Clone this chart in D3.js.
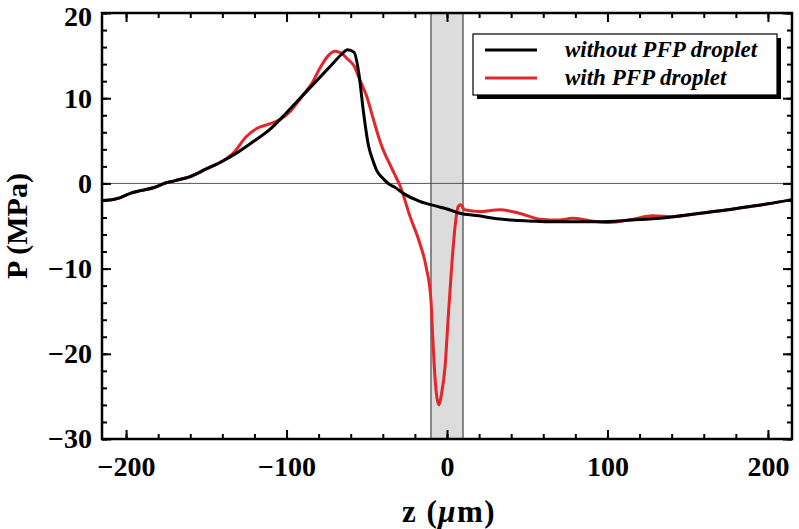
<!DOCTYPE html>
<html>
<head>
<meta charset="utf-8">
<script src="https://cdn.jsdelivr.net/npm/d3@7"></script>
<style>
  html, body { margin: 0; padding: 0; background: #fff; }
  svg { display: block; }
  text { font-family: "Liberation Serif", "Times New Roman", serif; font-weight: bold; fill: #000; }
</style>
</head>
<body>
<svg id="chart" width="799" height="529"></svg>
<script>
// ---------------- data ----------------
const seriesNames = ["without PFP droplet", "with PFP droplet"];
const seriesColors = ["#000000", "#e3262a"];

// black curve: without PFP droplet
const zWithout = [-215,-210,-204,-197,-191,-182,-177,-170,-160,-150,-140,-130,-120,-110,-100,-90,-80,-72,-66,-62,-58,-55,-52,-49,-46,-44,-42,-40,-36,-33,-27,-17,-6,0,8,20,29,40,50,70,95,115,133,158,175,189,200,215];
const pWithout = [-2.0,-1.95,-1.7,-1.15,-0.85,-0.45,-0.05,0.3,0.8,1.7,2.6,3.7,5.0,6.4,8.3,10.3,12.3,13.9,15.1,15.7,15.4,13.0,8.3,4.5,2.6,1.6,1.0,0.6,-0.1,-0.4,-1.2,-2.1,-2.7,-3.0,-3.5,-3.8,-4.1,-4.3,-4.4,-4.5,-4.5,-4.3,-4.1,-3.5,-3.1,-2.7,-2.4,-1.9];

// red curve: with PFP droplet
const zWith = [-215,-210,-204,-197,-191,-182,-177,-170,-160,-150,-140,-133,-125,-118,-112,-104,-98,-90,-84,-79,-74,-70,-66,-62,-58,-54,-50,-46,-42,-39.7,-36,-33,-29,-23,-17,-13,-10,-9,-7.5,-5,-3.5,-1.2,0.8,2.9,5,7,8.5,11,20,33,45,58,70,78,90,101,116,128,140,158,175,189,200,215];
const pWith = [-2.0,-1.95,-1.7,-1.15,-0.85,-0.45,-0.05,0.3,0.8,1.7,2.6,3.6,5.5,6.5,6.9,7.5,8.4,10.3,11.8,13.6,15.0,15.5,15.3,14.6,13.8,12.0,10.2,7.6,5.1,3.9,2.4,1.2,-0.4,-3.9,-7.0,-9.8,-13.7,-17.6,-22.7,-26.0,-24.8,-21.5,-15.6,-9.8,-5.1,-2.7,-2.5,-3.1,-3.3,-3.1,-3.5,-4.2,-4.3,-4.1,-4.4,-4.6,-4.2,-3.8,-3.9,-3.5,-3.1,-2.7,-2.4,-1.9];

// droplet band (z range)
const bandZ = [-10, 10];

// axes
const xDomain = [-215, 215];
const yDomain = [-30, 20];
const xMajorTicks = [-200, -100, 0, 100, 200];
const xMinorTicks = d3.range(-200, 201, 20);
const yMajorTicks = [-30, -20, -10, 0, 10, 20];
const yMinorTicks = d3.range(-30, 21, 2);

// ---------------- drawing ----------------
const svg = d3.select("#chart");
const L = 102, R = 792, T = 13, B = 439;

const x = d3.scaleLinear().domain(xDomain).range([L, R]);
const y = d3.scaleLinear().domain(yDomain).range([B, T]);

svg.append("defs").append("clipPath").attr("id", "clip")
  .append("rect").attr("x", L).attr("y", T).attr("width", R - L).attr("height", B - T);

// droplet band
svg.append("rect")
  .attr("x", x(bandZ[0])).attr("y", T)
  .attr("width", x(bandZ[1]) - x(bandZ[0])).attr("height", B - T)
  .attr("fill", "#dcdcdc");
bandZ.forEach(v => {
  svg.append("line").attr("x1", x(v)).attr("x2", x(v)).attr("y1", T).attr("y2", B)
    .attr("stroke", "#222").attr("stroke-width", 1);
});

// zero line
svg.append("line").attr("x1", L).attr("x2", R).attr("y1", y(0)).attr("y2", y(0))
  .attr("stroke", "#555").attr("stroke-width", 1);

// curves
const line = d3.line().curve(d3.curveMonotoneX).x(d => x(d[0])).y(d => y(d[1]));
const gCurves = svg.append("g").attr("clip-path", "url(#clip)");
gCurves.append("path").datum(zWith.map((z, i) => [z, pWith[i]]))
  .attr("d", line).attr("fill", "none").attr("stroke", seriesColors[1])
  .attr("stroke-width", 3).attr("stroke-linejoin", "round");
gCurves.append("path").datum(zWithout.map((z, i) => [z, pWithout[i]]))
  .attr("d", line).attr("fill", "none").attr("stroke", seriesColors[0])
  .attr("stroke-width", 3).attr("stroke-linejoin", "round");

// axes with inward ticks
const majorLen = 9, minorLen = 5;
function styleAxis(g) {
  g.select(".domain").remove();
  g.selectAll(".tick line").attr("stroke", "#000").attr("stroke-width", 2);
  g.selectAll(".tick text").style("font-size", "28px").style("font-family", '"Liberation Serif", "Times New Roman", serif').style("font-weight", "bold");
}
// bottom
svg.append("g").attr("transform", `translate(0,${B})`)
  .call(d3.axisBottom(x).tickValues(xMinorTicks).tickSize(-minorLen).tickFormat("")).call(styleAxis);
svg.append("g").attr("transform", `translate(0,${B})`)
  .call(d3.axisBottom(x).tickValues(xMajorTicks).tickSize(-majorLen).tickPadding(17)).call(styleAxis);
// top
svg.append("g").attr("transform", `translate(0,${T})`)
  .call(d3.axisTop(x).tickValues(xMinorTicks).tickSize(-minorLen).tickFormat("")).call(styleAxis);
svg.append("g").attr("transform", `translate(0,${T})`)
  .call(d3.axisTop(x).tickValues(xMajorTicks).tickSize(-majorLen).tickFormat("")).call(styleAxis);
// left
svg.append("g").attr("transform", `translate(${L},0)`)
  .call(d3.axisLeft(y).tickValues(yMinorTicks).tickSize(-minorLen).tickFormat("")).call(styleAxis);
const yAxisG = svg.append("g").attr("transform", `translate(${L},0)`)
  .call(d3.axisLeft(y).tickValues(yMajorTicks).tickSize(-majorLen).tickPadding(10)).call(styleAxis);
// keep the top label fully inside the canvas
yAxisG.selectAll(".tick text").filter(d => d === yDomain[1]).attr("dy", "0.44em");
// right
svg.append("g").attr("transform", `translate(${R},0)`)
  .call(d3.axisRight(y).tickValues(yMinorTicks).tickSize(-minorLen).tickFormat("")).call(styleAxis);
svg.append("g").attr("transform", `translate(${R},0)`)
  .call(d3.axisRight(y).tickValues(yMajorTicks).tickSize(-majorLen).tickFormat("")).call(styleAxis);

// frame
svg.append("rect").attr("x", L).attr("y", T).attr("width", R - L).attr("height", B - T)
  .attr("fill", "none").attr("stroke", "#000").attr("stroke-width", 2.5);

// axis titles
svg.append("text").attr("x", (L + R) / 2 + 2).attr("y", 522).attr("text-anchor", "middle")
  .style("font-size", "31px").style("letter-spacing", "1.5px")
  .call(t => {
    t.append("tspan").text("z (");
    t.append("tspan").style("font-style", "italic").text("μ");
    t.append("tspan").text("m)");
  });
svg.append("text").attr("transform", `translate(27,${(T + B) / 2}) rotate(-90)`)
  .attr("text-anchor", "middle").style("font-size", "30px").text("P (MPa)");

// legend
const lg = svg.append("g");
const lx = 473, ly = 34, lw = 304, lh = 61;
lg.append("rect").attr("x", lx + 4).attr("y", ly + 4).attr("width", lw).attr("height", lh).attr("fill", "#000");
lg.append("rect").attr("x", lx).attr("y", ly).attr("width", lw).attr("height", lh)
  .attr("fill", "#fff").attr("stroke", "#000").attr("stroke-width", 1.2);
seriesNames.forEach((name, i) => {
  const yy = ly + 16 + i * 28;
  lg.append("line").attr("x1", lx + 12).attr("x2", lx + 64).attr("y1", yy).attr("y2", yy)
    .attr("stroke", seriesColors[i]).attr("stroke-width", 3);
  lg.append("text").attr("x", lx + 92).attr("y", yy + 7)
    .style("font-size", "23px").style("font-style", "italic").text(name);
});
</script>
</body>
</html>
